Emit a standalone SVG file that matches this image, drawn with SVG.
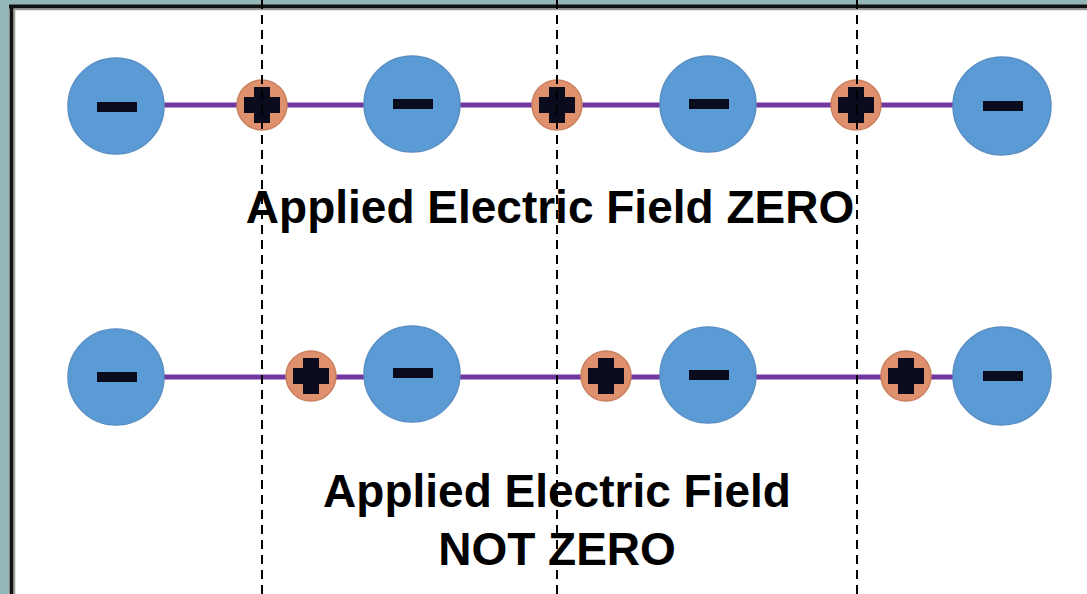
<svg xmlns="http://www.w3.org/2000/svg" width="1087" height="594" viewBox="0 0 1087 594">
  <style>
    .neg { fill: #5b9bd5; stroke: #5a8fc4; stroke-width: 1.5; }
    .pos { fill: #df916e; stroke: #c9805f; stroke-width: 1.5; }
    .sign { fill: #0b0b1e; }
    .bond { stroke: #7236a0; stroke-width: 5; fill: none; }
    .guide { stroke: #000; stroke-width: 2; stroke-dasharray: 9 6; fill: none; }
    .label { font-family: "Liberation Sans", Arial, sans-serif; font-weight: bold; font-size: 46px; fill: #000; text-anchor: middle; }
  </style>
  <defs>
    <g id="minus"><rect x="-20" y="-5" width="40" height="10" class="sign"/></g>
    <path id="plus" class="sign" d="M-8,-18 H8 V-8 H18 V8 H8 V18 H-8 V8 H-18 V-8 H-8 Z"/>
  </defs>

  <!-- frame -->
  <rect x="0" y="0" width="1087" height="594" fill="#93b6b8"/>
  <rect x="9" y="5" width="1078" height="589" fill="#ffffff"/>
  <line x1="11.5" y1="5" x2="11.5" y2="594" stroke="#111" stroke-width="4"/>
  <line x1="9" y1="6.5" x2="1087" y2="6.5" stroke="#111" stroke-width="4"/>
  <line x1="14.5" y1="9" x2="14.5" y2="594" stroke="#999" stroke-width="1.5"/>
  <line x1="14" y1="9.5" x2="1087" y2="9.5" stroke="#999" stroke-width="1.5"/>

  <g id="connectors">
    <line class="bond" x1="116" y1="105" x2="1002" y2="105"/>
    <line class="bond" x1="116" y1="377" x2="1002" y2="377"/>
  </g>

  <!-- top row -->
  <g id="top-neg-1"><circle class="neg" cx="116" cy="106" r="48"/><use href="#minus" x="117" y="107"/></g>
  <g id="top-pos-1"><circle class="pos" cx="262" cy="105" r="25"/><use href="#plus" x="262" y="105"/></g>
  <g id="top-neg-2"><circle class="neg" cx="412" cy="104" r="48"/><use href="#minus" x="413" y="104"/></g>
  <g id="top-pos-2"><circle class="pos" cx="557" cy="105" r="25"/><use href="#plus" x="557" y="105"/></g>
  <g id="top-neg-3"><circle class="neg" cx="708" cy="104" r="48"/><use href="#minus" x="709" y="104"/></g>
  <g id="top-pos-3"><circle class="pos" cx="856" cy="105" r="25"/><use href="#plus" x="856" y="105"/></g>
  <g id="top-neg-4"><circle class="neg" cx="1002" cy="106" r="49"/><use href="#minus" x="1003" y="106"/></g>

  <!-- bottom row -->
  <g id="bot-neg-1"><circle class="neg" cx="116" cy="377" r="48"/><use href="#minus" x="117" y="377"/></g>
  <g id="bot-pos-1"><circle class="pos" cx="311" cy="376" r="25"/><use href="#plus" x="311" y="376"/></g>
  <g id="bot-neg-2"><circle class="neg" cx="412" cy="374" r="48"/><use href="#minus" x="413" y="373"/></g>
  <g id="bot-pos-2"><circle class="pos" cx="606" cy="376" r="25"/><use href="#plus" x="606" y="376"/></g>
  <g id="bot-neg-3"><circle class="neg" cx="708" cy="375" r="48"/><use href="#minus" x="709" y="375"/></g>
  <g id="bot-pos-3"><circle class="pos" cx="906" cy="376" r="25"/><use href="#plus" x="906" y="376"/></g>
  <g id="bot-neg-4"><circle class="neg" cx="1002" cy="376" r="49"/><use href="#minus" x="1003" y="376"/></g>

  <!-- labels -->
  <g id="label-zero"><text class="label" x="550" y="223">Applied Electric Field ZERO</text></g>
  <g id="label-not-zero">
    <text class="label" x="557" y="507">Applied Electric Field</text>
    <text class="label" x="557" y="565">NOT ZERO</text>
  </g>

  <!-- dashed guides -->
  <g id="guides">
    <line class="guide" x1="262" y1="0" x2="262" y2="594"/>
    <line class="guide" x1="557" y1="0" x2="557" y2="594"/>
    <line class="guide" x1="857" y1="0" x2="857" y2="594"/>
  </g>
</svg>
